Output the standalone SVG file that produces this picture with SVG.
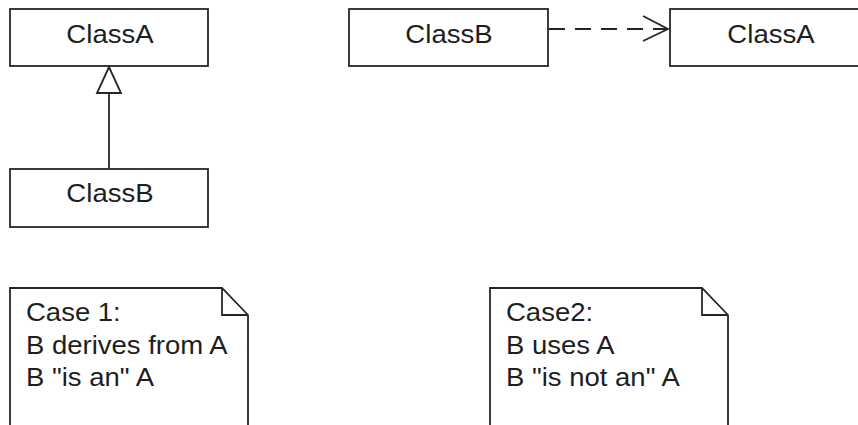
<svg xmlns="http://www.w3.org/2000/svg" width="858" height="425" viewBox="0 0 858 425">
  <style>
    .box { fill: #ffffff; stroke: #262626; stroke-width: 1.8; }
    .cls { font-family: "Liberation Sans", Arial, sans-serif; font-size: 26px; fill: #1e1e1e; text-anchor: middle; }
    .note { font-family: "Liberation Sans", Arial, sans-serif; font-size: 25px; fill: #1e1e1e; }
    .edge { fill: none; stroke: #262626; stroke-width: 1.8; }
    .dash { stroke-dasharray: 16 10; }
  </style>
  <rect width="858" height="425" fill="#ffffff"/>

  <!-- Case 1: inheritance -->
  <g id="case1-classA">
    <rect class="box" x="10" y="9" width="198" height="57"/>
    <text class="cls" transform="translate(110,43) scale(1.06,1)">ClassA</text>
  </g>
  <g id="case1-classB">
    <rect class="box" x="10" y="169" width="198" height="58"/>
    <text class="cls" transform="translate(110,202) scale(1.06,1)">ClassB</text>
  </g>

  <!-- Case 2: dependency -->
  <g id="case2-classB">
    <rect class="box" x="349" y="9" width="199" height="57"/>
    <text class="cls" transform="translate(449,43) scale(1.06,1)">ClassB</text>
  </g>
  <g id="case2-classA">
    <rect class="box" x="670" y="9" width="200" height="57"/>
    <text class="cls" transform="translate(771,43) scale(1.06,1)">ClassA</text>
  </g>

  <g id="connectors">
    <!-- generalization: ClassB -> ClassA, hollow triangle -->
    <line class="edge" x1="109" y1="169" x2="109" y2="93"/>
    <polygon class="edge" points="109,67 97,93 121,93" style="fill:#ffffff"/>
    <!-- dependency: ClassB -> ClassA, dashed with open arrowhead -->
    <line class="edge dash" x1="549" y1="29" x2="666" y2="29"/>
    <polyline class="edge" points="643,16 668,29 643,41"/>
  </g>

  <!-- notes -->
  <g id="note-case1">
    <polygon class="box" points="10,430 10,288 222,288 248,315 248,430"/>
    <polyline class="edge" points="222,288 222,315 248,315"/>
    <g transform="translate(26,0) scale(1.1,1)">
      <text class="note" x="0" y="321">Case 1:</text>
      <text class="note" x="0" y="354">B derives from A</text>
      <text class="note" x="0" y="386">B "is an" A</text>
    </g>
  </g>
  <g id="note-case2">
    <polygon class="box" points="490,430 490,288 702,288 728,315 728,430"/>
    <polyline class="edge" points="702,288 702,315 728,315"/>
    <g transform="translate(506,0) scale(1.1,1)">
      <text class="note" x="0" y="321">Case2:</text>
      <text class="note" x="0" y="354">B uses A</text>
      <text class="note" x="0" y="386">B "is not an" A</text>
    </g>
  </g>
</svg>
